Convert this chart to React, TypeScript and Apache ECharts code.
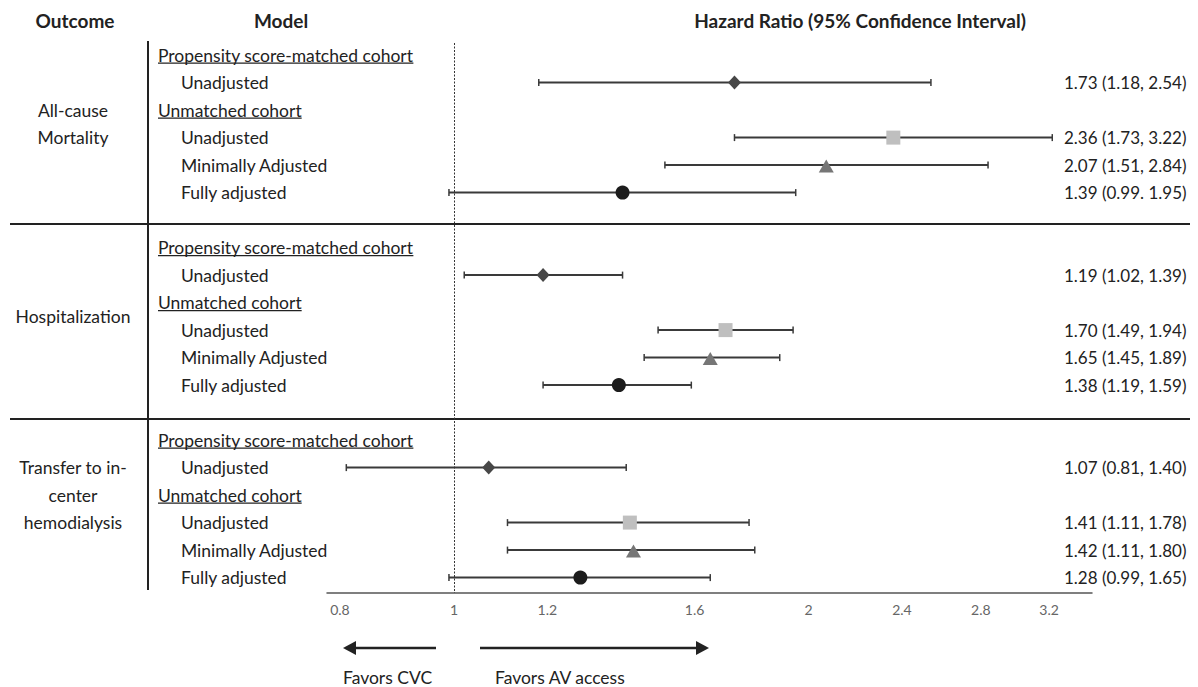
import { useEffect, useRef } from 'react';
import * as echarts from 'echarts';

const outcomes = ['All-cause\nMortality', 'Hospitalization', 'Transfer to in-\ncenter\nhemodialysis'];
const cohortHeaders = ['Propensity score-matched cohort', 'Unmatched cohort'];
const modelNames = ['Unadjusted', 'Unadjusted', 'Minimally Adjusted', 'Fully adjusted'];
const hazardRatio = [1.73, 2.36, 2.07, 1.39, 1.19, 1.70, 1.65, 1.38, 1.07, 1.41, 1.42, 1.28];
const ciLower = [1.18, 1.73, 1.51, 0.99, 1.02, 1.49, 1.45, 1.19, 0.81, 1.11, 1.11, 0.99];
const ciUpper = [2.54, 3.22, 2.84, 1.95, 1.39, 1.94, 1.89, 1.59, 1.40, 1.78, 1.80, 1.65];
const ciText = [
  '1.73 (1.18, 2.54)', '2.36 (1.73, 3.22)', '2.07 (1.51, 2.84)', '1.39 (0.99. 1.95)',
  '1.19 (1.02, 1.39)', '1.70 (1.49, 1.94)', '1.65 (1.45, 1.89)', '1.38 (1.19, 1.59)',
  '1.07 (0.81, 1.40)', '1.41 (1.11, 1.78)', '1.42 (1.11, 1.80)', '1.28 (0.99, 1.65)',
];
const tickValues = [0.8, 1, 1.2, 1.6, 2, 2.4, 2.8, 3.2];
const tickLabels = ['0.8', '1', '1.2', '1.6', '2', '2.4', '2.8', '3.2'];
const axisMin = 0.78;
const axisMax = 3.48;

const FONT = 'Lato, "Noto Sans", sans-serif';
const TEXT = '#222222';
const BODY = 17.5;
const ROWS_PER_GROUP = 7;
const MODEL_ROW = [1, 3, 4, 5];
const HEADER_ROW = [0, 2];
const OUTCOME_ROW = [2.5, 9.5, 16];

const markerStyles = [
  { symbol: 'diamond', size: [13, 14], color: '#474747', offset: [0, 0] },
  { symbol: 'rect', size: 14, color: '#bfbfbf', offset: [0, 0] },
  { symbol: 'triangle', size: [15, 13], color: '#767676', offset: [0, 1] },
  { symbol: 'circle', size: 14, color: '#1c1c1c', offset: [0, 0] },
];

function rowOf(i: number) {
  return Math.floor(i / 4) * ROWS_PER_GROUP + MODEL_ROW[i % 4];
}

function measure(text: string, size: number) {
  const ctx = document.createElement('canvas').getContext('2d');
  if (!ctx) return text.length * size * 0.5;
  ctx.font = `${size}px ${FONT}`;
  return ctx.measureText(text).width;
}

export default function App() {
  const ref = useRef<HTMLDivElement>(null);
  useEffect(() => {
    document.body.style.margin = '0';
    if (!ref.current) return;
    const chart = echarts.init(ref.current, undefined, { renderer: 'svg' });

    const errData = hazardRatio.map((_, i) => [Math.log(ciLower[i]), Math.log(ciUpper[i]), rowOf(i)]);

    const scatterSeries = markerStyles.map((ms, m) => ({
      type: 'scatter',
      symbol: ms.symbol,
      symbolSize: ms.size,
      symbolOffset: ms.offset,
      itemStyle: { color: ms.color, opacity: 1 },
      z: 5,
      silent: true,
      data: hazardRatio
        .map((v, i) => ({ v, i }))
        .filter((d) => d.i % 4 === m)
        .map((d) => [Math.log(d.v), rowOf(d.i)]),
      markLine: m === 0 ? {
        silent: true,
        symbol: 'none',
        label: { show: false },
        lineStyle: { type: [2, 1.5], color: '#333', width: 1 },
        data: [{ xAxis: 0 }],
      } : undefined,
    }));

    chart.setOption({
      animation: false,
      grid: { left: 327, right: 106, top: 43, bottom: 94 },
      xAxis: {
        type: 'value',
        position: 'bottom',
        min: Math.log(axisMin),
        max: Math.log(axisMax),
        splitLine: { show: false },
        axisTick: { show: false },
        axisLine: { show: true, onZero: false, lineStyle: { color: '#555', width: 1.5 } },
        axisLabel: {
          customValues: tickValues.map((t) => Math.log(t)),
          formatter: (v: number) => {
            const idx = tickValues.findIndex((t) => Math.abs(Math.log(t) - v) < 1e-6);
            return idx >= 0 ? tickLabels[idx] : '';
          },
          color: '#666',
          fontSize: 14,
          fontFamily: FONT,
          margin: 9,
        },
      },
      yAxis: {
        type: 'value',
        inverse: true,
        min: -0.44,
        max: 19.56,
        show: false,
      },
      series: [
        {
          type: 'custom',
          silent: true,
          z: 3,
          data: errData,
          renderItem: (_p: any, api: any) => {
            const y = api.value(2);
            const a = api.coord([api.value(0), y]);
            const b = api.coord([api.value(1), y]);
            const stroke = '#3a3a3a';
            return {
              type: 'group',
              children: [
                { type: 'line', shape: { x1: a[0], y1: a[1], x2: b[0], y2: b[1] }, style: { stroke, lineWidth: 2 } },
                { type: 'line', shape: { x1: a[0], y1: a[1] - 3.5, x2: a[0], y2: a[1] + 3.5 }, style: { stroke, lineWidth: 1.5 } },
                { type: 'line', shape: { x1: b[0], y1: b[1] - 3.5, x2: b[0], y2: b[1] + 3.5 }, style: { stroke, lineWidth: 1.5 } },
              ],
            };
          },
        },
        ...scatterSeries,
      ],
    });

    const rowY = (r: number) => chart.convertToPixel({ gridIndex: 0 }, [0, r])[1];
    const g: any[] = [];
    const txt = (text: string, x: number, y: number, opts: any = {}) => ({
      type: 'text',
      x,
      y,
      silent: true,
      style: {
        text,
        fontFamily: FONT,
        fontSize: BODY,
        fill: TEXT,
        align: 'left',
        verticalAlign: 'middle',
        ...opts,
      },
    });

    g.push(txt('Outcome', 75, 20, { fontWeight: 'bold', align: 'center', fontSize: 19 }));
    g.push(txt('Model', 281, 20, { fontWeight: 'bold', align: 'center', fontSize: 19 }));
    g.push(txt('Hazard Ratio (95% Confidence Interval)', 860, 20, { fontWeight: 'bold', align: 'center', fontSize: 19 }));

    outcomes.forEach((o, gi) => {
      g.push(txt(o, 73, rowY(OUTCOME_ROW[gi]), { align: 'center', lineHeight: 27.5 }));
      cohortHeaders.forEach((h, hi) => {
        const y = rowY(gi * ROWS_PER_GROUP + HEADER_ROW[hi]);
        g.push(txt(h, 158, y));
        const w = measure(h, BODY);
        g.push({ type: 'line', silent: true, shape: { x1: 158, y1: y + 8, x2: 158 + w, y2: y + 8 }, style: { stroke: TEXT, lineWidth: 1.3 } });
      });
    });

    hazardRatio.forEach((_, i) => {
      const y = rowY(rowOf(i));
      g.push(txt(modelNames[i % 4], 181, y));
      g.push(txt(ciText[i], 1064, y, { fontSize: 17 }));
    });

    // table rules
    g.push({ type: 'line', silent: true, shape: { x1: 148, y1: 41, x2: 148, y2: 590 }, style: { stroke: '#222', lineWidth: 2 } });
    [224, 419].forEach((y) => {
      g.push({ type: 'line', silent: true, shape: { x1: 10, y1: y, x2: 1190, y2: y }, style: { stroke: '#222', lineWidth: 2 } });
    });

    // arrows
    const ay = 648;
    g.push({ type: 'line', silent: true, shape: { x1: 436, y1: ay, x2: 352, y2: ay }, style: { stroke: '#222', lineWidth: 2.5 } });
    g.push({ type: 'polygon', silent: true, shape: { points: [[343, ay], [356, ay - 7], [356, ay + 7]] }, style: { fill: '#222' } });
    g.push({ type: 'line', silent: true, shape: { x1: 480, y1: ay, x2: 698, y2: ay }, style: { stroke: '#222', lineWidth: 2.5 } });
    g.push({ type: 'polygon', silent: true, shape: { points: [[709, ay], [696, ay - 7], [696, ay + 7]] }, style: { fill: '#222' } });
    g.push(txt('Favors CVC', 343, 677));
    g.push(txt('Favors AV access', 495, 677));

    chart.setOption({ graphic: g });

    return () => chart.dispose();
  }, []);

  return <div ref={ref} style={{ width: 1198, height: 687, position: 'fixed', left: 0, top: 0, background: '#fff' }} />;
}
